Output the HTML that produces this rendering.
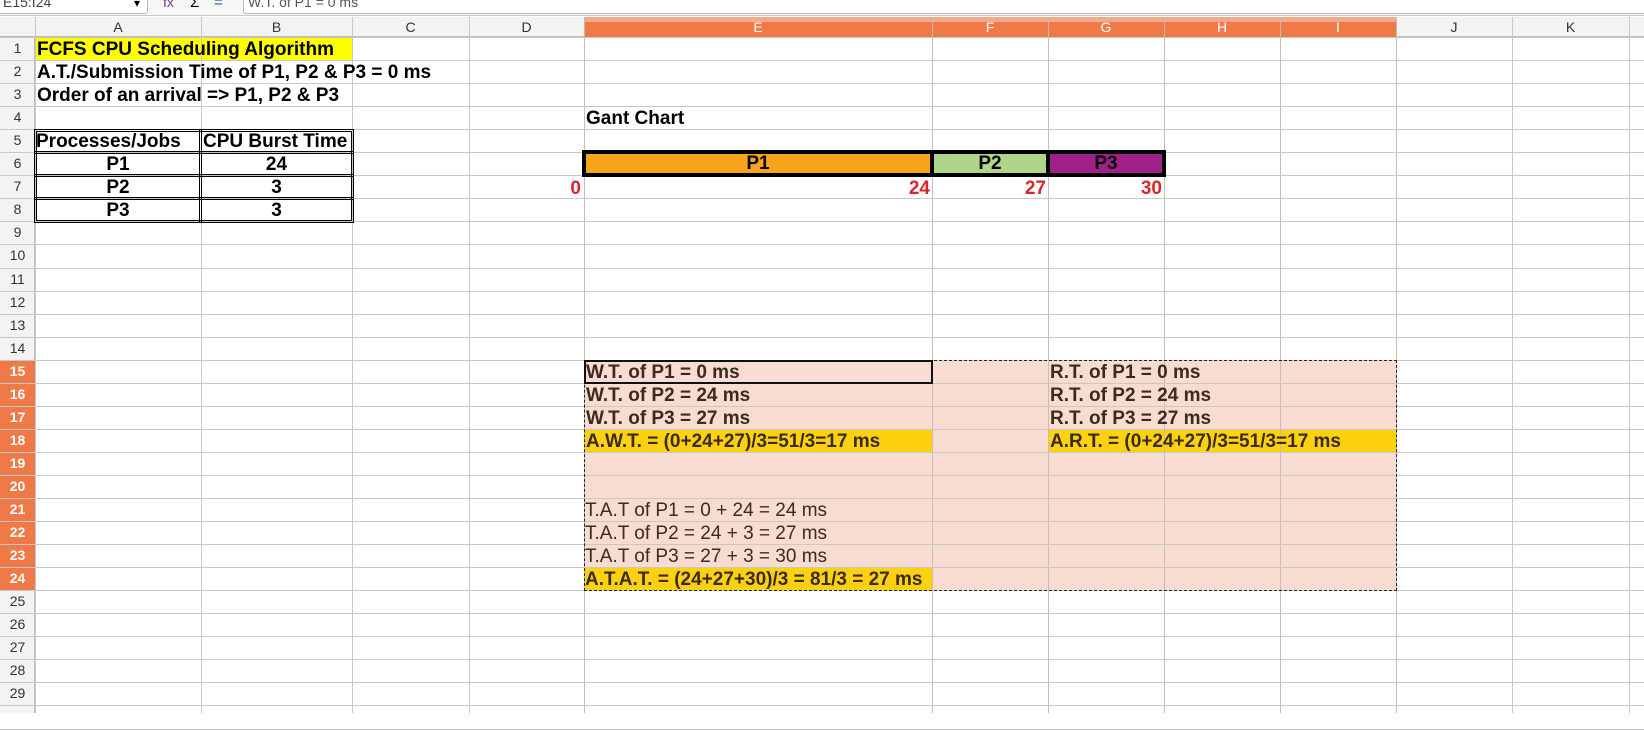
<!DOCTYPE html>
<html><head><meta charset="utf-8"><style>
body{margin:0;width:1644px;height:713px;overflow:hidden;background:#fff;font-family:"Liberation Sans",sans-serif;position:relative}
.a{position:absolute;box-sizing:border-box}
.t{position:absolute;white-space:nowrap;font-size:19px;line-height:25px}
.b{font-weight:bold}
</style></head><body>
<div class="a" style="left:0;top:0;width:1644px;height:16px;background:#f6f6f5;border-bottom:1px solid #c8c8c8"></div>
<div class="a" style="left:-2px;top:-8px;width:150px;height:22px;border:1px solid #bbb;border-radius:3px;background:#fff;font-size:14px;color:#444;padding-left:4px;line-height:18px">E15:I24</div>
<div class="t" style="left:134px;top:-9px;font-size:12px">▾</div>
<div class="t" style="left:163px;top:-10px;font-size:14px;color:#7a3a8a">fx</div>
<div class="t" style="left:190px;top:-10px;font-size:15px">Σ</div>
<div class="t" style="left:214px;top:-10px;font-size:15px;color:#2a5aa0">=</div>
<div class="a" style="left:243px;top:-8px;width:1410px;height:22px;border:1px solid #bbb;border-radius:3px;background:#fff;font-size:14px;color:#555;padding-left:4px;line-height:18px">W.T. of P1 = 0 ms</div>
<div id="g"></div>
<script>
var cols=[35,201,352,469,584,932,1048,1164,1280,1396,1512,1629,1700];
var names="ABCDEFGHIJK";
var top0=37,rh=23.05,h="";
h+='<div class="a" style="left:0;top:17px;width:1644px;height:20px;background:#f3f3f2;border-bottom:1px solid #bbb"></div>';
h+='<div class="a" style="left:584px;top:17px;width:812px;height:20px;background:#ef7a48"></div>';
h+='<div class="a" style="left:584px;top:17px;width:812px;height:5px;background:#f5a98b"></div>';
h+='<div class="a" style="left:0;top:37px;width:35px;height:676px;background:#f3f3f2;border-right:1px solid #bbb"></div>';
for(var i=0;i<cols.length-1;i++){
 var sel=i>=4&&i<=8;
 h+='<div class="t" style="left:'+cols[i]+'px;width:'+(cols[i+1]-cols[i])+'px;top:17px;line-height:20px;font-size:14px;text-align:center;color:'+(sel?'#fff':'#333')+'">'+(names[i]||'')+'</div>';
}
for(var r=1;r<=29;r++){
 var y=top0+(r-1)*rh;
 var sel=r>=15&&r<=24;
 if(sel)h+='<div class="a" style="left:0;top:'+y+'px;width:35px;height:'+rh+'px;background:#ef7a48"></div>';
 h+='<div class="t" style="left:0;width:35px;top:'+y+'px;line-height:23px;font-size:14px;text-align:center;color:'+(sel?'#fff':'#333')+(sel?';font-weight:bold':'')+'">'+r+'</div>';
}
var py=top0+14*rh,pb=top0+24*rh;
h+='<div class="a" style="left:584px;top:'+py+'px;width:812px;height:'+(pb-py)+'px;background:#f9dcd1"></div>';
function cell(x,w,r,bg){return '<div class="a" style="left:'+x+'px;top:'+(top0+(r-1)*rh)+'px;width:'+w+'px;height:'+rh+'px;background:'+bg+'"></div>';}
h+=cell(35,317,1,'#ffff00');
h+=cell(584,348,18,'#fcd10f');h+=cell(1048,348,18,'#fcd10f');h+=cell(584,348,24,'#fcd10f');
for(var i=0;i<cols.length;i++)h+='<div class="a" style="left:'+cols[i]+'px;top:17px;width:1px;height:696px;background:'+(i>=4&&i<=9?'#c8bcb6':'#c8c8c8')+'"></div>';
for(var r=0;r<=30;r++){var y=Math.round(top0+r*rh);h+='<div class="a" style="left:0;top:'+y+'px;width:1644px;height:1px;background:#c8c8c8"></div>';}
document.getElementById('g').innerHTML=h;
</script>
<div class="t b" style="left:37px;top:37px">FCFS CPU Scheduling Algorithm</div>
<div class="t b" style="left:37px;top:60px">A.T./Submission Time of P1, P2 &amp; P3 = 0 ms</div>
<div class="t b" style="left:37px;top:83px">Order of an arrival =&gt; P1, P2 &amp; P3</div>
<div class="t b" style="left:586px;top:106px">Gant Chart</div>
<div class="a" style="left:34px;top:129px;width:320px;height:94px;border:3px double #000"></div>
<div class="a" style="left:199px;top:129px;width:3px;height:94px;border-left:1px solid #000;border-right:1px solid #000"></div>
<div class="a" style="left:34px;top:151px;width:320px;height:3px;border-top:1px solid #000;border-bottom:1px solid #000"></div>
<div class="a" style="left:34px;top:174px;width:320px;height:3px;border-top:1px solid #000;border-bottom:1px solid #000"></div>
<div class="a" style="left:34px;top:197px;width:320px;height:3px;border-top:1px solid #000;border-bottom:1px solid #000"></div>
<div class="t b" style="left:36px;top:129px;font-size:19px">Processes/Jobs</div>
<div class="t b" style="left:203px;top:129px;font-size:19px">CPU Burst Time</div>
<div class="t b" style="left:35px;width:166px;text-align:center;top:152px">P1</div>
<div class="t b" style="left:201px;width:151px;text-align:center;top:152px">24</div>
<div class="t b" style="left:35px;width:166px;text-align:center;top:175px">P2</div>
<div class="t b" style="left:201px;width:151px;text-align:center;top:175px">3</div>
<div class="t b" style="left:35px;width:166px;text-align:center;top:198px">P3</div>
<div class="t b" style="left:201px;width:151px;text-align:center;top:198px">3</div>
<div class="a" style="left:582px;top:150px;width:584px;height:27px;border:1px solid #000;background:#000"></div>
<div class="a" style="left:585px;top:153px;width:346px;height:21px;background:#f8a51c;border:1px solid #000"></div>
<div class="a" style="left:933px;top:153px;width:114px;height:21px;background:#aed58b;border:1px solid #000"></div>
<div class="a" style="left:1049px;top:153px;width:114px;height:21px;background:#a0208a;border:1px solid #000"></div>
<div class="t b" style="left:584px;width:348px;text-align:center;top:151px">P1</div>
<div class="t b" style="left:932px;width:116px;text-align:center;top:151px">P2</div>
<div class="t b" style="left:1048px;width:116px;text-align:center;top:151px">P3</div>
<div class="t b" style="left:469px;width:112px;text-align:right;top:176px;color:#d9252a">0</div>
<div class="t b" style="left:584px;width:346px;text-align:right;top:176px;color:#d9252a">24</div>
<div class="t b" style="left:932px;width:114px;text-align:right;top:176px;color:#d9252a">27</div>
<div class="t b" style="left:1048px;width:114px;text-align:right;top:176px;color:#d9252a">30</div>
<div class="a" style="left:584px;top:360px;width:813px;height:231px;border:1px dashed #222"></div>
<div class="a" style="left:584px;top:360px;width:349px;height:24px;border:2px solid #111"></div>
<div class="t b" style="left:586px;top:360px;color:#3b2a1e">W.T. of P1 = 0 ms</div>
<div class="t b" style="left:586px;top:383px;color:#3b2a1e">W.T. of P2 = 24 ms</div>
<div class="t b" style="left:586px;top:406px;color:#3b2a1e">W.T. of P3 = 27 ms</div>
<div class="t b" style="left:586px;top:429px;color:#3b2a1e">A.W.T. = (0+24+27)/3=51/3=17 ms</div>
<div class="t b" style="left:1050px;top:360px;color:#3b2a1e">R.T. of P1 = 0 ms</div>
<div class="t b" style="left:1050px;top:383px;color:#3b2a1e">R.T. of P2 = 24 ms</div>
<div class="t b" style="left:1050px;top:406px;color:#3b2a1e">R.T. of P3 = 27 ms</div>
<div class="t b" style="left:1050px;top:429px;color:#3b2a1e">A.R.T. = (0+24+27)/3=51/3=17 ms</div>
<div class="t" style="left:585px;top:498px;color:#3b2a1e">T.A.T of P1 = 0 + 24 = 24 ms</div>
<div class="t" style="left:585px;top:521px;color:#3b2a1e">T.A.T of P2 = 24 + 3 = 27 ms</div>
<div class="t" style="left:585px;top:544px;color:#3b2a1e">T.A.T of P3 = 27 + 3 = 30 ms</div>
<div class="t b" style="left:585px;top:567px;color:#3b2a1e">A.T.A.T. = (24+27+30)/3 = 81/3 = 27 ms</div>
</body></html>
